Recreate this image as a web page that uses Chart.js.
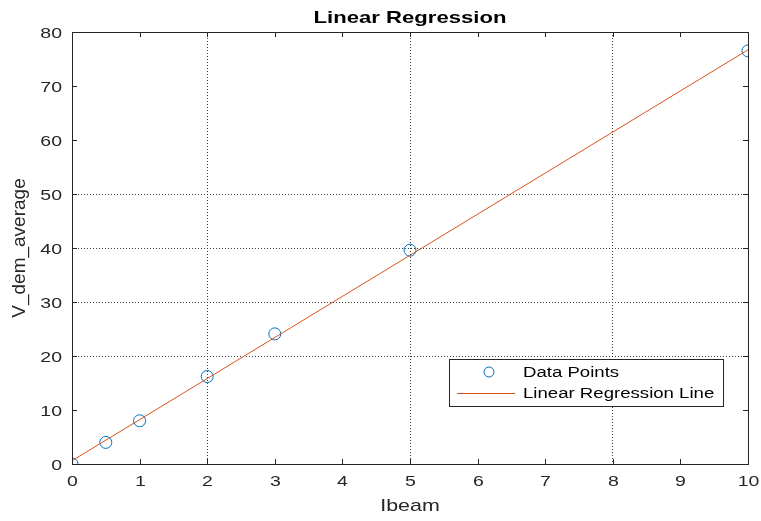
<!DOCTYPE html>
<html><head><meta charset="utf-8">
<script src="https://cdn.jsdelivr.net/npm/chart.js@4"></script>
<style>html,body{margin:0;padding:0;background:#fff}#wrap{width:761px;height:521px}</style>
</head><body><div id="wrap"><canvas id="c" width="761" height="521"></canvas></div>
<script>
const ibeam = [0, 0.5, 1, 2, 3, 5, 10];
const vDemAverage = [0, 4.0, 8.0, 16.2, 24.1, 39.6, 76.5];
const regressionX = [0, 10];
const regressionY = [0.6, 76.7];
const xGridAt = [2, 5, 8];
const yGridAt = [20, 30, 40, 50];
const titleText = 'Linear Regression';
const xLabel = 'Ibeam';
const yLabel = 'V_dem_average';
const seriesNames = ['Data Points', 'Linear Regression Line'];

const FONT = 'Arial, "Liberation Sans", sans-serif';
const TXT = '#262626';
const BLUE = '#0072BD';
const ORANGE = '#D95319';

function txt(ctx, s, x, y, size, bold, sx, align, color) {
  ctx.save();
  ctx.translate(x, y);
  ctx.scale(sx, 1);
  ctx.font = (bold ? 'bold ' : '') + size + 'px ' + FONT;
  ctx.textAlign = align;
  ctx.textBaseline = 'middle';
  ctx.fillStyle = color;
  ctx.fillText(s, 0, 0);
  ctx.restore();
}

const decor = {
  id: 'decor',
  afterDraw(chart) {
    const ctx = chart.ctx, a = chart.chartArea;
    const xs = chart.scales.x, ys = chart.scales.y;
    ctx.save();
    // frame
    ctx.strokeStyle = TXT; ctx.lineWidth = 1;
    ctx.strokeRect(Math.round(a.left) + 0.5, Math.round(a.top) + 0.5, Math.round(a.right - a.left), Math.round(a.bottom - a.top));
    // inside tick marks + tick labels
    const tl = 5;
    xs.ticks.forEach(t => {
      const px = Math.round(xs.getPixelForValue(t.value)) + 0.5;
      ctx.beginPath();
      ctx.moveTo(px, a.bottom); ctx.lineTo(px, a.bottom - tl);
      ctx.moveTo(px, a.top); ctx.lineTo(px, a.top + tl);
      ctx.stroke();
      txt(ctx, String(t.value), px, a.bottom + 18, 15, false, 1.3, 'center', TXT);
    });
    ys.ticks.forEach(t => {
      const py = Math.round(ys.getPixelForValue(t.value)) + 0.5;
      ctx.beginPath();
      ctx.moveTo(a.left, py); ctx.lineTo(a.left + tl, py);
      ctx.moveTo(a.right, py); ctx.lineTo(a.right - tl, py);
      ctx.stroke();
      txt(ctx, String(t.value), a.left - 10, py + 1, 15, false, 1.3, 'right', TXT);
    });
    // title
    const cx = (a.left + a.right) / 2;
    txt(ctx, titleText, cx, 18, 17, true, 1.3, 'center', '#000');
    // axis labels
    txt(ctx, xLabel, cx, 506, 17, false, 1.26, 'center', TXT);
    ctx.save();
    ctx.translate(20, (a.top + a.bottom) / 2);
    ctx.rotate(-Math.PI / 2);
    txt(ctx, yLabel, 0, 0, 19, false, 1, 'center', TXT);
    ctx.restore();
    // legend
    const lx = 449.5, ly = 359.5, lw = 274, lh = 47;
    ctx.fillStyle = '#fff';
    ctx.fillRect(lx, ly, lw, lh);
    ctx.strokeStyle = TXT; ctx.lineWidth = 1;
    ctx.strokeRect(lx, ly, lw, lh);
    const ds = chart.data.datasets;
    ctx.beginPath();
    ctx.strokeStyle = ds[0].borderColor;
    ctx.arc(489, 372, 5, 0, Math.PI * 2);
    ctx.stroke();
    ctx.beginPath();
    ctx.strokeStyle = ds[1].borderColor;
    ctx.moveTo(457, 393.5); ctx.lineTo(515, 393.5);
    ctx.stroke();
    txt(ctx, ds[0].label, 523, 373, 15.5, false, 1.2, 'left', '#000');
    txt(ctx, ds[1].label, 523, 394, 15.5, false, 1.2, 'left', '#000');
    ctx.restore();
  }
};

new Chart(document.getElementById('c'), {
  type: 'scatter',
  data: {
    datasets: [
      {
        label: seriesNames[0],
        data: ibeam.map((x, i) => ({ x: x, y: vDemAverage[i] })),
        showLine: false,
        pointStyle: 'circle',
        pointRadius: 6,
        pointHoverRadius: 6,
        backgroundColor: 'rgba(0,0,0,0)',
        borderColor: BLUE,
        borderWidth: 1,
        order: 2
      },
      {
        label: seriesNames[1],
        data: regressionX.map((x, i) => ({ x: x, y: regressionY[i] })),
        showLine: true,
        pointRadius: 0,
        borderColor: ORANGE,
        borderWidth: 1,
        fill: false,
        order: 1
      }
    ]
  },
  options: {
    responsive: false,
    animation: false,
    events: [],
    layout: { padding: { top: 32, right: 13, left: 0, bottom: 0 } },
    plugins: { legend: { display: false }, title: { display: false }, tooltip: { enabled: false } },
    scales: {
      x: {
        type: 'linear', min: 0, max: 10,
        afterFit: s => { s.height = 57; },
        ticks: { stepSize: 1, display: false },
        grid: {
          drawTicks: false,
          lineWidth: 1,
          color: c => (c.tick && xGridAt.includes(c.tick.value)) ? 'rgba(38,38,38,0.9)' : 'rgba(0,0,0,0)'
        },
        border: { display: false, dash: [1, 2] }
      },
      y: {
        type: 'linear', min: 0, max: 80,
        afterFit: s => { s.width = 72; },
        ticks: { stepSize: 10, display: false },
        grid: {
          drawTicks: false,
          lineWidth: 1,
          color: c => (c.tick && yGridAt.includes(c.tick.value)) ? 'rgba(38,38,38,0.9)' : 'rgba(0,0,0,0)'
        },
        border: { display: false, dash: [1, 2] }
      }
    }
  },
  plugins: [decor]
});
</script>
</body></html>
